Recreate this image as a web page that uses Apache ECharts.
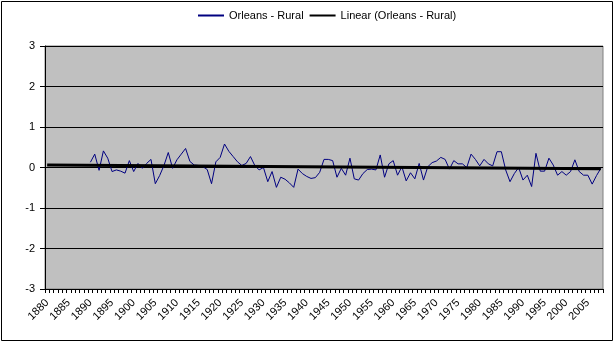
<!DOCTYPE html>
<html>
<head>
<meta charset="utf-8">
<script src="https://cdn.jsdelivr.net/npm/echarts@6/dist/echarts.min.js"></script>
<style>
  html, body { margin: 0; padding: 0; background: #fff; }
  #chart { width: 616px; height: 345px; }
</style>
</head>
<body>
<div id="chart"></div>
<script>
// Category axis: every year from 1880 to 2008
const firstYear = 1880;
const lastYear = 2008;
const years = [];
for (let y = firstYear; y <= lastYear; y++) years.push(String(y));

// Orleans minus rural anomaly, yearly values from 1890 onward
const dataStartYear = 1890;
const orleansRural = [
  0.13, 0.33, -0.07, 0.41, 0.23, -0.10, -0.06, -0.09, -0.14, 0.17,   // 1890s
  -0.10, 0.10, -0.02, 0.10, 0.20, -0.40, -0.20, 0.05, 0.37, -0.02,   // 1900s
  0.19, 0.33, 0.47, 0.15, 0.06, 0.05, 0.02, -0.05, -0.40, 0.14,      // 1910s
  0.25, 0.58, 0.40, 0.27, 0.14, 0.05, 0.10, 0.27, 0.05, -0.06,       // 1920s
  0.00, -0.35, -0.10, -0.49, -0.24, -0.29, -0.38, -0.49, -0.04, -0.15, // 1930s
  -0.22, -0.27, -0.25, -0.12, 0.20, 0.20, 0.17, -0.24, -0.02, -0.19, // 1940s
  0.23, -0.28, -0.31, -0.15, -0.05, -0.04, -0.06, 0.31, -0.24, 0.09, // 1950s
  0.17, -0.19, 0.02, -0.33, -0.13, -0.28, 0.10, -0.31, 0.02, 0.12,   // 1960s
  0.16, 0.25, 0.20, -0.04, 0.17, 0.09, 0.09, 0.00, 0.33, 0.20,       // 1970s
  0.04, 0.20, 0.09, 0.04, 0.39, 0.39, -0.06, -0.35, -0.15, 0.00,     // 1980s
  -0.31, -0.19, -0.47, 0.35, -0.09, -0.09, 0.23, 0.06, -0.19, -0.10, // 1990s
  -0.19, -0.10, 0.19, -0.10, -0.19, -0.19, -0.41, -0.20, -0.02       // 2000s
];

// Linear trend line: its value at the two ends of the axis
const trendYears = ['1880', '2008'];
const trendValues = [0.06, -0.03];

// y-axis ticks
const yTicks = [-3, -2, -1, 0, 1, 2, 3];

// Series aligned to the category axis (blank before the record begins)
const offset = dataStartYear - firstYear;
const seriesData = years.map((_, i) => {
  const k = i - offset;
  return (k >= 0 && k < orleansRural.length) ? orleansRural[k] : null;
});
const trendData = trendYears.map((yr, i) => [yr, trendValues[i]]);

const chart = echarts.init(document.getElementById('chart'), null, { renderer: 'canvas' });

const font = 'Liberation Sans, Arial, sans-serif';

chart.setOption({
  backgroundColor: '#ffffff',
  animation: false,
  textStyle: { fontFamily: font },
  graphic: [{
    type: 'rect',
    shape: { x: 1.5, y: 1.5, width: 611, height: 339 },
    style: { fill: 'none', stroke: '#000', lineWidth: 1 },
    silent: true
  }],
  legend: {
    top: 5,
    left: 193,
    itemGap: 6,
    itemWidth: 26,
    itemHeight: 2,
    textStyle: { fontFamily: font, fontSize: 11, color: '#000' },
    data: [
      { name: 'Orleans - Rural', icon: 'rect', itemStyle: { color: '#000080' } },
      { name: 'Linear (Orleans - Rural)', icon: 'rect', itemStyle: { color: '#000' } }
    ]
  },
  grid: {
    left: 45, right: 13, top: 46, bottom: 56,
    show: true,
    backgroundColor: '#C0C0C0',
    borderColor: '#808080',
    borderWidth: 1
  },
  xAxis: {
    type: 'category',
    data: years,
    boundaryGap: true,
    axisLine: { onZero: false, lineStyle: { color: '#000', width: 1 } },
    axisTick: { show: true, interval: 0, length: 4, lineStyle: { color: '#000' } },
    axisLabel: {
      interval: 4,
      rotate: 45,
      fontFamily: font,
      fontSize: 11,
      color: '#000',
      margin: 12
    },
    splitLine: { show: false }
  },
  yAxis: {
    type: 'value',
    min: yTicks[0],
    max: yTicks[yTicks.length - 1],
    interval: 1,
    axisLine: { show: true, lineStyle: { color: '#000', width: 1 } },
    axisTick: { show: true, length: 5, lineStyle: { color: '#000' } },
    axisLabel: { fontFamily: font, fontSize: 11, color: '#000', margin: 10 },
    splitLine: { show: true, lineStyle: { color: '#000', width: 1 } }
  },
  series: [
    {
      name: 'Orleans - Rural',
      type: 'line',
      data: seriesData,
      showSymbol: false,
      symbol: 'none',
      connectNulls: false,
      lineStyle: { color: '#000080', width: 1 },
      itemStyle: { color: '#000080' },
      z: 3
    },
    {
      name: 'Linear (Orleans - Rural)',
      type: 'line',
      data: trendData,
      showSymbol: false,
      symbol: 'none',
      lineStyle: { color: '#000', width: 3 },
      itemStyle: { color: '#000' },
      z: 4
    }
  ]
});
</script>
</body>
</html>
